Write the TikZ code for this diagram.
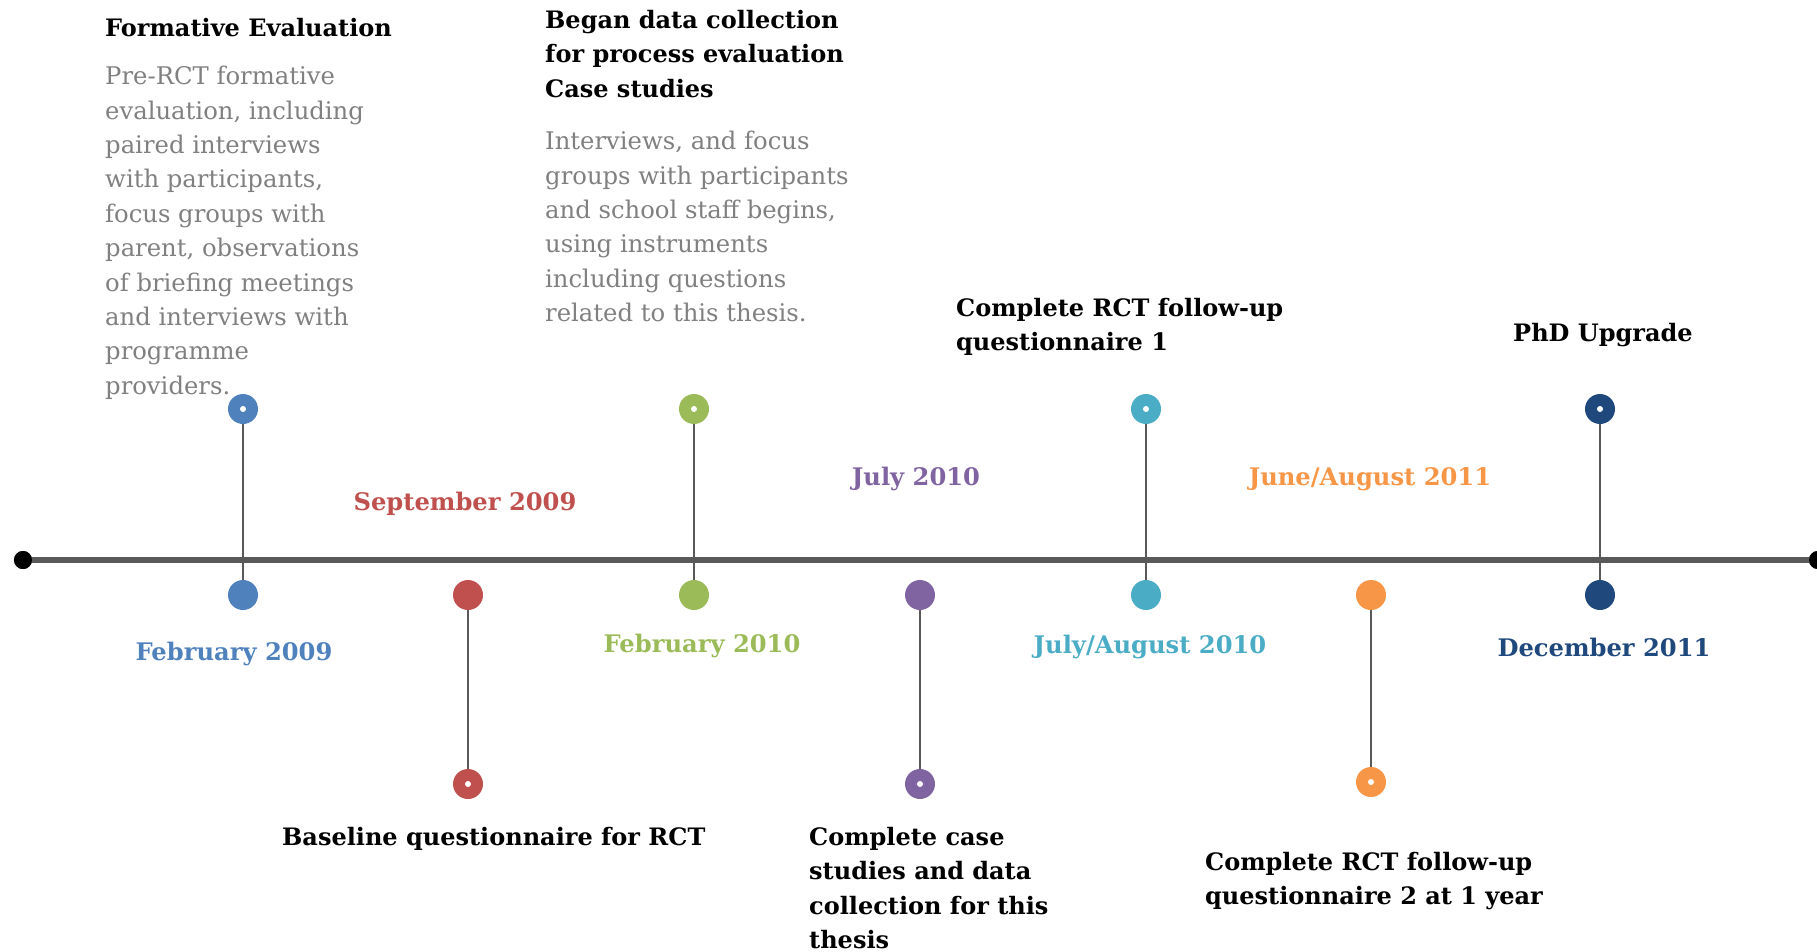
\documentclass[tikz,border=0pt]{standalone}
\usepackage{fontspec}
\setmainfont{DejaVu Serif}
\definecolor{cblue}{HTML}{4F81BD}
\definecolor{cred}{HTML}{C0504D}
\definecolor{cgreen}{HTML}{9BBB59}
\definecolor{cpurple}{HTML}{8064A2}
\definecolor{cteal}{HTML}{4BACC6}
\definecolor{corange}{HTML}{F79646}
\definecolor{cnavy}{HTML}{1F497D}
\definecolor{linegray}{HTML}{595959}
\definecolor{graytext}{HTML}{808080}
\tikzset{
  mk/.style={circle, minimum size=30pt, inner sep=0pt, fill=#1},
  hole/.style={path picture={\fill[white] (path picture bounding box.center) circle (3pt);}},
  endpt/.style={circle, fill=black, minimum size=18pt, inner sep=0pt},
  stem/.style={draw=linegray, line width=2.5pt},
  datelbl/.style={font=\bfseries\fontsize{24.2}{28}\selectfont, text=#1, inner sep=0pt},
  headtxt/.style={font=\bfseries\fontsize{24}{34.4}\selectfont, align=left, anchor=north west, inner sep=0pt},
  bodytxt/.style={font=\fontsize{24.3}{34.4}\selectfont, text=graytext, align=left, anchor=north west, inner sep=0pt}
}
\begin{document}
\begin{tikzpicture}[x=1pt,y=-1pt]
\useasboundingbox (0,0) rectangle (1817,952);
\clip (0,0) rectangle (1817,952);

% markers
\node[mk=cblue, hole] (u1) at (243,409) {};
\node[mk=cblue] (d1) at (243,595) {};
\node[mk=cred] (d2) at (468,595) {};
\node[mk=cred, hole] (b2) at (468,784) {};
\node[mk=cgreen, hole] (u3) at (694,409) {};
\node[mk=cgreen] (d3) at (694,595) {};
\node[mk=cpurple] (d4) at (920,595) {};
\node[mk=cpurple, hole] (b4) at (920,784) {};
\node[mk=cteal, hole] (u5) at (1146,409) {};
\node[mk=cteal] (d5) at (1146,595) {};
\node[mk=corange] (d6) at (1371,595) {};
\node[mk=corange, hole] (b6) at (1371,782) {};
\node[mk=cnavy, hole] (u7) at (1600,409) {};
\node[mk=cnavy] (d7) at (1600,595) {};

% stems
\draw[stem] (u1.south) -- (d1.north);
\draw[stem] (d2.south) -- (b2.north);
\draw[stem] (u3.south) -- (d3.north);
\draw[stem] (d4.south) -- (b4.north);
\draw[stem] (u5.south) -- (d5.north);
\draw[stem] (d6.south) -- (b6.north);
\draw[stem] (u7.south) -- (d7.north);

% timeline
\node[endpt] (L) at (23,560) {};
\node[endpt] (R) at (1818,560) {};
\draw[line width=6pt, linegray] (L.center) -- (R.center);
\node[endpt] at (L) {};
\node[endpt] at (R) {};

% dates
\node[datelbl=cblue] (t1) at (234,654) {February 2009};
\node[datelbl=cred] (t2) at (465,504) {September 2009};
\node[datelbl=cgreen] (t3) at (702,646) {February 2010};
\node[datelbl=cpurple] (t4) at (916,479) {July 2010};
\node[datelbl=cteal] (t5) at (1150,647) {July/August 2010};
\node[datelbl=corange] (t6) at (1370,479) {June/August 2011};
\node[datelbl=cnavy] (t7) at (1604,647) {December 2011};

% descriptions
\node[headtxt] (h1) at (105,18) {Formative Evaluation};
\node[bodytxt] (p1) at (105,66) {Pre-RCT formative\\evaluation, including\\paired interviews\\with participants,\\focus groups with\\parent, observations\\of briefing meetings\\and interviews with\\programme\\providers.};
\node[headtxt] (h3) at (545,10) {Began data collection\\for process evaluation\\Case studies};
\node[bodytxt] (p3) at (545,131) {Interviews, and focus\\groups with participants\\and school staff begins,\\using instruments\\including questions\\related to this thesis.};
\node[headtxt] (h5) at (956,298) {Complete RCT follow-up\\questionnaire 1};
\node[headtxt] (h7) at (1513,323) {PhD Upgrade};
\node[headtxt] (h2) at (282,827) {Baseline questionnaire for RCT};
\node[headtxt] (h4) at (809,827) {Complete case\\studies and data\\collection for this\\thesis};
\node[headtxt] (h6) at (1205,852) {Complete RCT follow-up\\questionnaire 2 at 1 year};
\end{tikzpicture}
\end{document}
